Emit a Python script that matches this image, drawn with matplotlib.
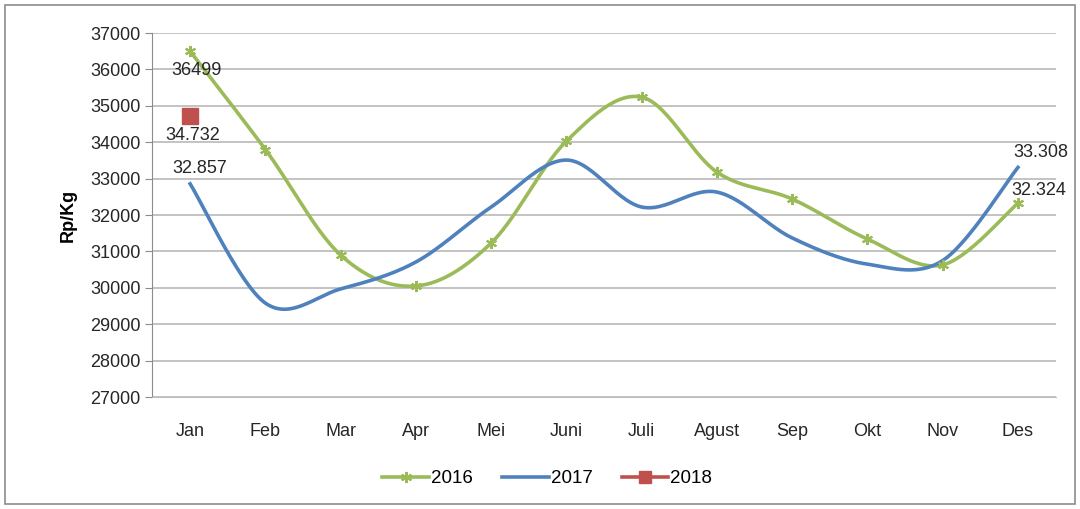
import numpy as np
import matplotlib.pyplot as plt
from matplotlib.patches import Rectangle

plt.rcParams['font.family'] = ['Liberation Sans', 'DejaVu Sans']

months = ["Jan", "Feb", "Mar", "Apr", "Mei", "Juni", "Juli", "Agust", "Sep", "Okt", "Nov", "Des"]
harga_2016 = [36499, 33800, 30900, 30050, 31230, 34030, 35240, 33180, 32440, 31340, 30630, 32324]
harga_2017 = [32857, 29580, 29970, 30710, 32220, 33510, 32220, 32630, 31370, 30650, 30750, 33308]
harga_2018 = [34732]

GREEN = "#9BBB59"
BLUE = "#4F81BD"
RED = "#C0504D"


def smooth(xs, ys, n=30):
    # bezier through the points, catmull-rom style tangents
    xs = np.asarray(xs, float)
    ys = np.asarray(ys, float)
    px, py = [], []
    for i in range(len(xs) - 1):
        x0, y0 = xs[max(i - 1, 0)], ys[max(i - 1, 0)]
        x1, y1 = xs[i], ys[i]
        x2, y2 = xs[i + 1], ys[i + 1]
        x3, y3 = xs[min(i + 2, len(xs) - 1)], ys[min(i + 2, len(xs) - 1)]
        c1x, c1y = x1 + (x2 - x0) / 6, y1 + (y2 - y0) / 6
        c2x, c2y = x2 - (x3 - x1) / 6, y2 - (y3 - y1) / 6
        t = np.linspace(0, 1, n)
        a, b, c, d = (1 - t) ** 3, 3 * t * (1 - t) ** 2, 3 * t ** 2 * (1 - t), t ** 3
        px.extend(a * x1 + b * c1x + c * c2x + d * x2)
        py.extend(a * y1 + b * c1y + c * c2y + d * y2)
    return np.array(px), np.array(py)


fig = plt.figure(figsize=(10.8, 5.09), dpi=100)
fig.patches.append(Rectangle((0.005, 0.01), 0.99, 0.98, transform=fig.transFigure,
                             fill=False, edgecolor="#8C8C8C", linewidth=1.2))
ax = fig.add_axes([0.1412, 0.22, 0.8362, 0.7151])

x = np.arange(len(months))

sx, sy = smooth(x, harga_2016)
ax.plot(sx, sy, color=GREEN, linewidth=2.6, zorder=3)
ax.plot(x, harga_2016, linestyle="none", marker=(6, 2, 0), markersize=8,
        markeredgecolor=GREEN, markeredgewidth=1.5, zorder=4)

sx, sy = smooth(x, harga_2017)
ax.plot(sx, sy, color=BLUE, linewidth=2.6, zorder=3)

ax.plot(x[:1], harga_2018, linestyle="none", marker="s", markersize=11,
        color=RED, zorder=5)

# legend handles
ax.plot([], [], color=GREEN, linewidth=2.6, marker=(6, 2, 0), markersize=8,
        markeredgewidth=1.5, label="2016")
ax.plot([], [], color=BLUE, linewidth=2.6, label="2017")
ax.plot([], [], color=RED, linewidth=2.6, marker="s", markersize=9, label="2018")

lbl = dict(fontsize=13, color="#262626", zorder=6)
ax.text(x[0] + 0.08, harga_2016[0] - 300, f"{harga_2016[0]}", ha="center", va="top", **lbl)
ax.text(x[0] + 0.04, harga_2018[0] - 300, f"{harga_2018[0] / 1000:.3f}", ha="center", va="top", **lbl)
ax.text(x[0] + 0.13, harga_2017[0] + 180, f"{harga_2017[0] / 1000:.3f}", ha="center", va="bottom", **lbl)
ax.text(x[-1] + 0.3, harga_2017[-1] + 180, f"{harga_2017[-1] / 1000:.3f}", ha="center", va="bottom", **lbl)
ax.text(x[-1] + 0.27, harga_2016[-1] + 130, f"{harga_2016[-1] / 1000:.3f}", ha="center", va="bottom", **lbl)

ax.set_xlim(-0.5, len(months) - 0.5)
ax.set_ylim(27000, 37000)
ax.set_yticks(np.arange(27000, 37001, 1000))
ax.set_xticks(x)
ax.set_xticklabels(months)
ax.tick_params(axis="both", labelsize=13, colors="#262626")
ax.tick_params(axis="y", length=5, color="#8C8C8C")
ax.tick_params(axis="x", length=0, pad=19)
ax.grid(axis="y", color="#BEBEBE", linewidth=1.3)
ax.set_axisbelow(True)
for s in ["top", "right"]:
    ax.spines[s].set_visible(False)
ax.spines["left"].set_color("#8C8C8C")
ax.spines["bottom"].set_color("#BEBEBE")
ax.set_ylabel("Rp/Kg", fontsize=13, fontweight="bold", labelpad=10)

ax.legend(loc="center", bbox_to_anchor=(0.437, -0.225), ncol=3, frameon=False,
          fontsize=13.5, handlelength=2.5, columnspacing=1.55, handletextpad=0.1)

fig.savefig("out.png", dpi=100)
